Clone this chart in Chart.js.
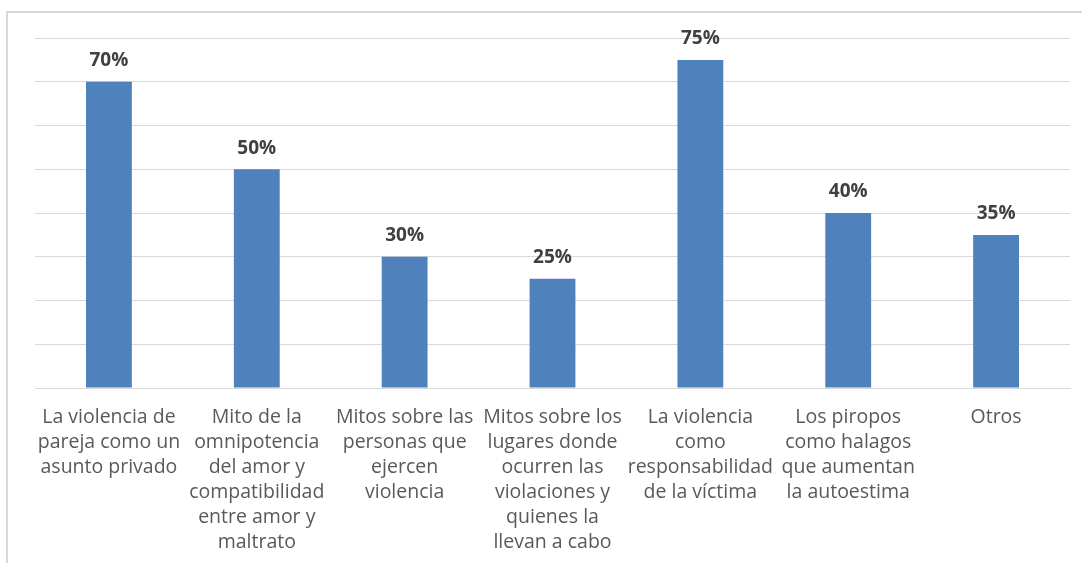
<!DOCTYPE html>
<html>
<head>
<meta charset="utf-8">
<script src="https://cdn.jsdelivr.net/npm/chart.js@4"></script>
<style>
  html, body { margin: 0; padding: 0; background: #fff; }
  #wrap { width: 1082px; height: 563px; }
</style>
</head>
<body>
<div id="wrap"><canvas id="chart" width="1082" height="563"></canvas></div>
<script>
const categories = [
  ['La violencia de', 'pareja como un', 'asunto privado'],
  ['Mito de la', 'omnipotencia', 'del amor y', 'compatibilidad', 'entre amor y', 'maltrato'],
  ['Mitos sobre las', 'personas que', 'ejercen', 'violencia'],
  ['Mitos sobre los', 'lugares donde', 'ocurren las', 'violaciones y', 'quienes la', 'llevan a cabo'],
  ['La violencia', 'como', 'responsabilidad', 'de la víctima'],
  ['Los piropos', 'como halagos', 'que aumentan', 'la autoestima'],
  ['Otros']
];
const values = [70, 50, 30, 25, 75, 40, 35];
const yMax = 80;
const yStep = 10;

const ctx = document.getElementById('chart');

// frame around the whole chart
const framePlugin = {
  id: 'frame',
  beforeDraw(chart) {
    const c = chart.ctx;
    c.save();
    c.fillStyle = '#fff';
    c.fillRect(0, 0, chart.width, chart.height);
    c.strokeStyle = '#d9d9d9';
    c.lineWidth = 2;
    c.strokeRect(7, 12, chart.width + 20, chart.height + 20);
    c.restore();
  }
};

// value labels above bars
const valueLabels = {
  id: 'valueLabels',
  afterDatasetsDraw(chart) {
    const c = chart.ctx;
    const meta = chart.getDatasetMeta(0);
    c.save();
    c.font = 'bold 19px "Open Sans", sans-serif';
    c.fillStyle = '#404040';
    c.textAlign = 'center';
    c.textBaseline = 'middle';
    meta.data.forEach((bar, i) => {
      c.fillText(values[i] + '%', bar.x, bar.y - 21);
    });
    c.restore();
  }
};

new Chart(ctx, {
  type: 'bar',
  data: {
    labels: categories,
    datasets: [{
      data: values,
      backgroundColor: '#4f81bd',
      borderWidth: 0,
      categoryPercentage: 1,
      barPercentage: 0.31
    }]
  },
  options: {
    responsive: false,
    animation: false,
    layout: { padding: { top: 38, left: 35, right: 12, bottom: 0 } },
    plugins: { legend: { display: false }, tooltip: { enabled: false } },
    scales: {
      x: {
        grid: { display: false, drawTicks: false },
        border: { color: '#d9d9d9', width: 1 },
        ticks: {
          color: '#595959',
          font: { family: '"Open Sans", sans-serif', size: 19.5, lineHeight: 25 / 19.5 },
          padding: 17,
          maxRotation: 0,
          autoSkip: false
        },
        afterFit(scale) { scale.height = 175; }
      },
      y: {
        min: 0,
        max: yMax,
        ticks: { display: false, stepSize: yStep },
        grid: { color: '#d9d9d9', lineWidth: 1, drawTicks: false },
        border: { display: false },
        afterFit(scale) { scale.width = 0; }
      }
    }
  },
  plugins: [framePlugin, valueLabels]
});
</script>
</body>
</html>
